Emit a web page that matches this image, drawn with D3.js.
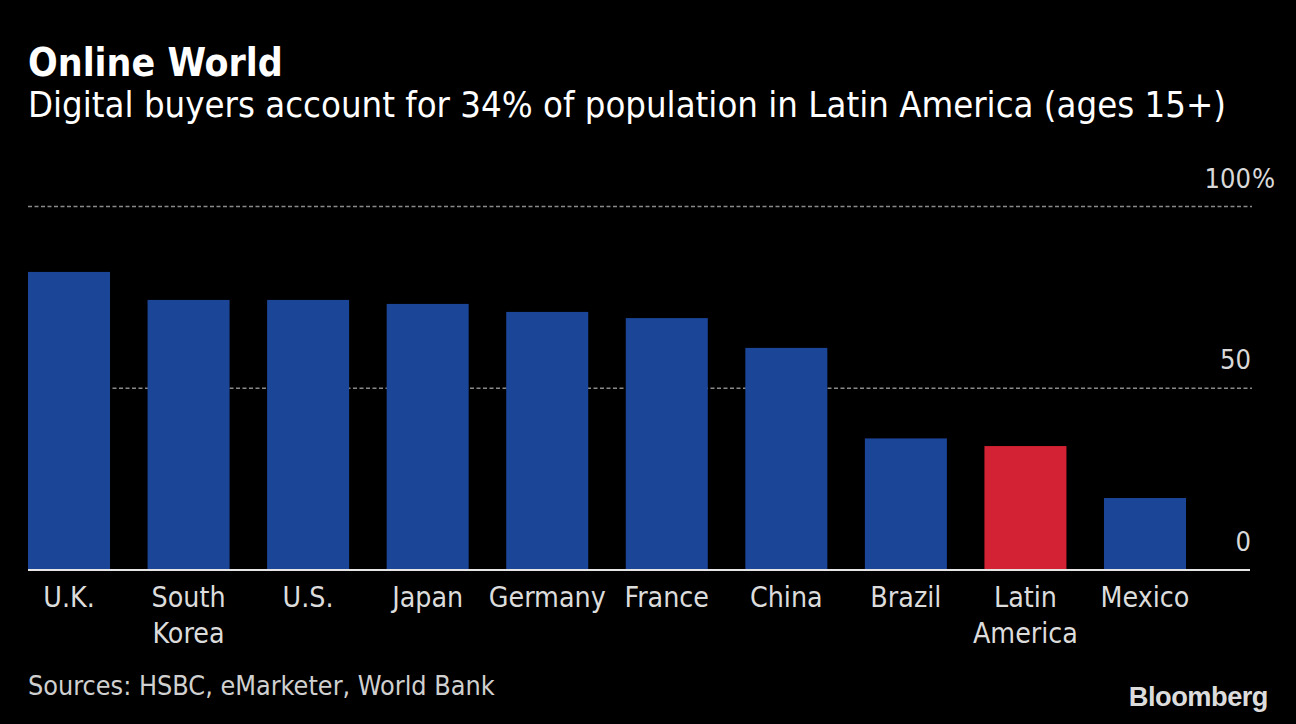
<!DOCTYPE html>
<html><head><meta charset="utf-8">
<script src="https://cdn.jsdelivr.net/npm/d3@7"></script>
<style>
html,body{margin:0;padding:0;background:#000;}
svg{display:block;}
.t{font-family:'DejaVu Sans Condensed','DejaVu Sans',sans-serif;font-stretch:condensed;}
</style></head>
<body>
<svg id="chart" width="1296" height="724"></svg>
<script>
const categories = ["U.K.", "South Korea", "U.S.", "Japan", "Germany", "France", "China", "Brazil", "Latin America", "Mexico"];
const values = [82.0, 74.3, 74.3, 73.2, 71.0, 69.3, 61.1, 36.2, 34.1, 19.8];
const highlight = ["Latin America"];
const yTicks = [0, 50, 100];
const titleText = "Online World";
const subtitleText = "Digital buyers account for 34% of population in Latin America (ages 15+)";
const sourceText = "Sources: HSBC, eMarketer, World Bank";

const svg = d3.select("#chart");
svg.append("rect").attr("width",1296).attr("height",724).attr("fill","#000");

function fit(sel, target) {
  const w = sel.node().getComputedTextLength();
  const fs = parseFloat(sel.attr("font-size"));
  sel.attr("font-size", fs * target / w);
}

const x = d3.scaleBand().domain(categories).range([28, 1186]).paddingInner(0.314).paddingOuter(0);
const y = d3.scaleLinear().domain([0, 100]).range([570, 206.5]);

// gridlines
svg.append("g").selectAll("line").data(yTicks.filter(d => d > 0)).join("line")
  .attr("x1", 28).attr("x2", 1252)
  .attr("y1", d => y(d)).attr("y2", d => y(d))
  .attr("stroke", "#8a8a8a").attr("stroke-width", 1.5).attr("stroke-dasharray", "4,2.5");

// bars
svg.append("g").selectAll("rect").data(categories).join("rect")
  .attr("x", d => x(d)).attr("width", x.bandwidth())
  .attr("y", (d, i) => y(values[i])).attr("height", (d, i) => y(0) - y(values[i]))
  .attr("fill", d => highlight.includes(d) ? "#d32233" : "#1b4597");

// zero line
svg.append("line").attr("x1", 28).attr("x2", 1250).attr("y1", y(0)).attr("y2", y(0))
  .attr("stroke", "#e6e6e6").attr("stroke-width", 2);

// y tick labels
const yl = svg.append("g").attr("class", "t").attr("fill", "#d9d9d9");
const ylab = yl.selectAll("text").data(yTicks).join("text")
  .attr("x", 1251).attr("y", d => y(d) - 19)
  .attr("text-anchor", "end").attr("font-size", 26).text(d => d);
fit(ylab.filter(d => d === 50), 31);
const ys = ylab.filter(d => d === 50).attr("font-size");
ylab.attr("font-size", ys);
yl.append("text").attr("x", 1252).attr("y", y(100) - 19).attr("font-size", ys).text("%");

// x labels
const xl = svg.append("g").attr("class", "t").attr("fill", "#dcdcdc");
const probe = xl.append("text").attr("font-size", 26).text("Germany");
fit(probe, 117);
const xfs = probe.attr("font-size");
probe.remove();
categories.forEach(c => {
  const t = xl.append("text").attr("x", x(c) + x.bandwidth() / 2).attr("y", 607)
    .attr("text-anchor", "middle").attr("font-size", xfs);
  c.split(" ").forEach((w, i) => {
    t.append("tspan").attr("x", x(c) + x.bandwidth() / 2).attr("dy", i === 0 ? 0 : 36).text(w);
  });
});

// title & subtitle
const title = svg.append("text").attr("class", "t").attr("x", 28).attr("y", 76)
  .attr("font-weight", "bold").attr("fill", "#fff").attr("font-size", 34).text(titleText);
fit(title, 255);
const sub = svg.append("text").attr("class", "t").attr("x", 28).attr("y", 117)
  .attr("fill", "#fff").attr("font-size", 30).text(subtitleText);
fit(sub, 1198);

// source
const src = svg.append("text").attr("class", "t").attr("x", 28).attr("y", 695)
  .attr("fill", "#d0d0d0").attr("font-size", 25).text(sourceText);
fit(src, 467);

// Bloomberg
const bb = svg.append("text").attr("x", 1268).attr("y", 706).attr("text-anchor", "end")
  .attr("font-family", "'Liberation Sans', Arial, sans-serif").attr("font-weight", "bold")
  .attr("fill", "#dcdcdc").attr("font-size", 26).attr("letter-spacing", -0.5).text("Bloomberg");
fit(bb, 139);
</script>
</body></html>
